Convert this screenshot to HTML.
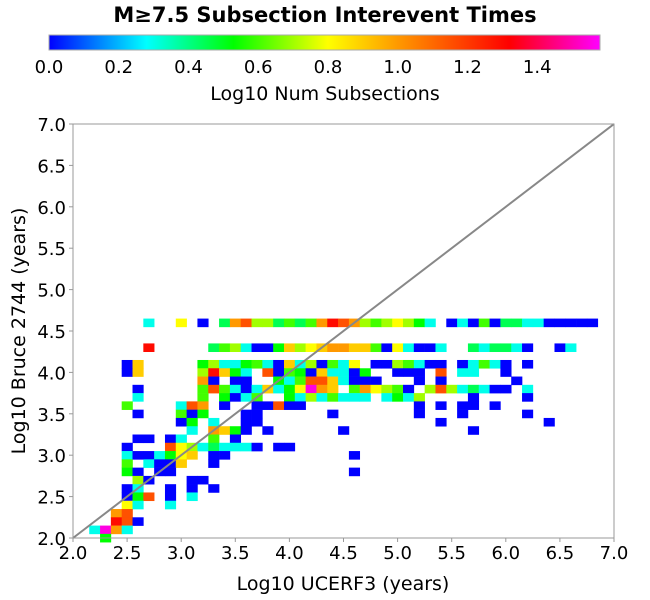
<!DOCTYPE html>
<html><head><meta charset="utf-8"><style>
html,body{margin:0;padding:0;background:#fff;}
svg{display:block;font-family:"DejaVu Sans","Liberation Sans",sans-serif;}
</style></head><body>
<svg id="chart" width="650" height="600" viewBox="0 0 650 600">
<defs>
<linearGradient id="cbar" x1="0" y1="0" x2="1" y2="0">
<stop offset="0" stop-color="#0000ff"/><stop offset="0.177" stop-color="#00ffff"/>
<stop offset="0.335" stop-color="#00ff00"/><stop offset="0.506" stop-color="#ffff00"/>
<stop offset="0.633" stop-color="#ff9900"/><stop offset="0.835" stop-color="#ff0000"/>
<stop offset="1" stop-color="#ff00ff"/>
</linearGradient>
</defs>
<text x="325" y="22" text-anchor="middle" font-size="21" font-weight="bold">M≥7.5 Subsection Interevent Times</text>
<rect x="49" y="35" width="551" height="15" fill="url(#cbar)" stroke="#aaa" stroke-width="1"/>
<g id="cbticks"></g>
<text x="325" y="100" text-anchor="middle" font-size="19">Log10 Num Subsections</text>
<g id="cells"></g>
<line id="diag" stroke="#888" stroke-width="2"/>
<rect x="73" y="124" width="541" height="414" fill="none" stroke="#999" stroke-width="1"/>
<g id="axes"></g>
<text x="343" y="590" text-anchor="middle" font-size="19">Log10 UCERF3 (years)</text>
<text x="0" y="0" transform="translate(25,331) rotate(-90)" text-anchor="middle" font-size="19">Log10 Bruce 2744 (years)</text>
</svg>
<script>
const xTicks = [2.0,2.5,3.0,3.5,4.0,4.5,5.0,5.5,6.0,6.5,7.0];
const yTicks = [2.0,2.5,3.0,3.5,4.0,4.5,5.0,5.5,6.0,6.5,7.0];
const cbTicks = [0.0,0.2,0.4,0.6,0.8,1.0,1.2,1.4];
const codeValues = {B:0,C:0.3,g:0.45,G:0.53,L:0.6,y:0.7,Y:0.8,o:0.9,O:1.0,r:1.15,R:1.3,M:1.55};
const rowYs = [4.6,4.3,4.1,4.0,3.9,3.8,3.7,3.6,3.5,3.4,3.3,3.2,3.1,3.0,2.9,2.8,2.7,2.6,2.5,2.4,2.3,2.2,2.1,2.0];
const rowCells = [
"2.7C 3.0Y 3.2B 3.4g 3.5O 3.6r 3.7y 3.8y 3.9g 4.0L 4.1g 4.2L 4.3O 4.4R 4.5r 4.6O 4.7y 4.8L 4.9y 5.0Y 5.1y 5.2G 5.3C 5.5B 5.6C 5.7B 5.8L 5.9B 6.0g 6.1g 6.2C 6.3C 6.4B 6.5B 6.6B 6.7B 6.8B",
"2.7R 3.3g 3.4L 3.5y 3.6C 3.7B 3.8B 3.9G 4.0o 4.1y 4.2Y 4.3o 4.4O 4.5O 4.6o 4.7o 4.8L 4.9B 5.0Y 5.1C 5.2B 5.3B 5.4C 5.7g 5.8C 5.9g 6.0g 6.1C 6.2B 6.5B 6.6C",
"2.5B 2.6o 3.2G 3.3y 3.4C 3.5C 3.6G 3.7L 3.8C 3.9B 4.0o 4.1C 4.2y 4.3B 4.4L 4.5C 4.6Y 4.8B 4.9B 5.0y 5.1L 5.2C 5.3B 5.4B 5.6B 5.7C 5.8L 5.9C 6.0B 6.2B",
"2.5B 2.6o 3.2y 3.3R 3.4o 3.5G 3.6C 3.8r 3.9B 4.0L 4.1G 4.2B 4.3o 4.4C 4.5C 4.6B 4.7G 5.0B 5.1B 5.2B 5.4r 5.6C 5.7C 6.0B",
"3.2O 3.3B 3.5B 3.6B 3.9G 4.0C 4.1L 4.2r 4.3r 4.4o 4.5C 4.6B 4.7B 4.8B 5.2B 5.4B 6.1B",
"2.6B 3.2L 3.3r 3.4L 3.5C 3.6B 3.7C 3.8o 3.9C 4.0G 4.1Y 4.2M 4.3O 4.4o 4.6L 4.7O 4.8Y 4.9y 5.0L 5.1B 5.3y 5.4r 5.5y 5.6C 5.7g 5.8C 5.9B 6.0B 6.2C",
"2.6C 3.2L 3.4G 3.5B 3.6C 3.7L 4.0G 4.1C 4.2y 4.3C 4.4L 4.5C 4.6C 4.7C 4.9C 5.0G 5.1C 5.2y 5.7B 6.2B",
"2.5L 3.0C 3.1r 3.2O 3.4B 3.7B 3.8B 3.9r 4.0B 4.1B 5.2B 5.4B 5.6B 5.7B 5.9B",
"2.6B 3.0L 3.1B 3.2G 3.6B 3.7B 4.4B 5.2B 5.6B 6.2B",
"3.0B 3.1G 3.3C 3.6B 3.7B 5.4B 6.4B",
"3.1C 3.3O 3.4o 3.5G 3.6B 3.8B 4.5B 5.7B",
"2.6B 2.7B 2.9B 3.0C 3.3L 3.5B",
"2.5B 2.9r 3.0Y 3.1y 3.2C 3.3g 3.4C 3.5C 3.6C 3.7B 3.9B 4.0B",
"2.5C 2.6B 2.7B 2.8C 2.9G 3.0Y 3.1o 3.3B 3.4B 4.6B",
"2.5L 2.7C 2.8B 2.9B 3.0o 3.3B",
"2.5G 2.6B 2.8B 2.9B 4.6B",
"2.6y 2.7B 3.1B 3.2B",
"2.5B 2.6C 2.9B 3.1B 3.3B",
"2.5B 2.6G 2.7r 2.9B 3.1C",
"2.5Y 2.6C 2.9C",
"2.4O 2.5r",
"2.4R 2.5r 2.6B",
"2.2C 2.3M 2.4O 2.5C",
"2.3G"
];
const cellX = [], cellY = [], cellV = [];
rowYs.forEach((yv, i) => {
  rowCells[i].split(" ").forEach(tok => {
    cellX.push(parseFloat(tok.slice(0, -1)));
    cellY.push(yv);
    cellV.push(codeValues[tok.slice(-1)]);
  });
});

const NS = "http://www.w3.org/2000/svg";
const X0 = 73, X1 = 614, Y0 = 538, Y1 = 124;
function xs(v){ return X0 + (v - 2) / 5 * (X1 - X0); }
function ys(v){ return Y0 - (v - 2) / 5 * (Y0 - Y1); }
function cbx(v){ return 49 + v / 1.58 * 551; }
const stops = [[0,[0,0,255]],[0.28,[0,255,255]],[0.53,[0,255,0]],[0.8,[255,255,0]],[1.0,[255,153,0]],[1.32,[255,0,0]],[1.58,[255,0,255]]];
function cmap(v){
  for (let i = 0; i < stops.length - 1; i++) {
    const a = stops[i], b = stops[i+1];
    if (v <= b[0]) {
      const t = Math.max(0, (v - a[0]) / (b[0] - a[0]));
      const c = a[1].map((k, j) => Math.round(k + (b[1][j] - k) * t));
      return "rgb(" + c.join(",") + ")";
    }
  }
  return "rgb(255,0,255)";
}
function mk(tag, attrs, parent){
  const e = document.createElementNS(NS, tag);
  for (const k in attrs) e.setAttribute(k, attrs[k]);
  parent.appendChild(e);
  return e;
}
const cellsG = document.getElementById("cells");
const cw = xs(2.1) - xs(2.0), ch = ys(2.0) - ys(2.1);
cellX.forEach((xv, i) => {
  const r = mk("rect", {x: xs(xv) - cw/2, y: ys(cellY[i]) - ch/2, width: cw + 0.3, height: ch + 0.3, fill: cmap(cellV[i])}, cellsG);
  
  
});
const d = document.getElementById("diag");
d.setAttribute("x1", xs(2)); d.setAttribute("y1", ys(2));
d.setAttribute("x2", xs(7)); d.setAttribute("y2", ys(7));

const axG = document.getElementById("axes");
xTicks.forEach(t => {
  const l = mk("line", {x1: xs(t), x2: xs(t), y1: Y0, y2: Y0 + 4, stroke: "#999"}, axG);
  
  
  const tx = mk("text", {x: xs(t), y: 559, "text-anchor": "middle", "font-size": 18}, axG);
  tx.textContent = t.toFixed(1);
  
  
});
yTicks.forEach(t => {
  const l = mk("line", {x1: X0 - 4, x2: X0, y1: ys(t), y2: ys(t), stroke: "#999"}, axG);
  
  
  const tx = mk("text", {x: 66, y: ys(t) + 7, "text-anchor": "end", "font-size": 18}, axG);
  tx.textContent = t.toFixed(1);
  
  
});
const cbG = document.getElementById("cbticks");
cbTicks.forEach(t => {
  const tx = mk("text", {x: cbx(t), y: 73, "text-anchor": "middle", "font-size": 18}, cbG);
  tx.textContent = t.toFixed(1);
  
  
});
</script>
</body></html>
